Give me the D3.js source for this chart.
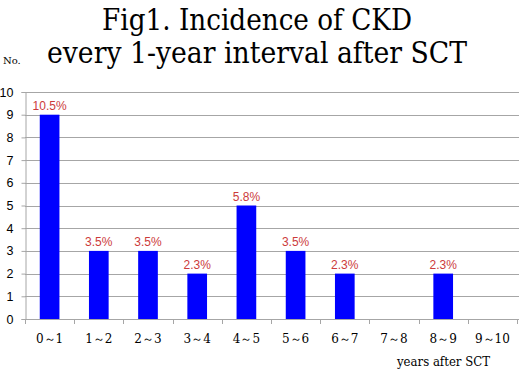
<!DOCTYPE html>
<html>
<head>
<meta charset="utf-8">
<script src="https://cdn.jsdelivr.net/npm/d3@7"></script>
<style>
  body { margin: 0; background: #fff; }
  svg { display: block; }
</style>
</head>
<body>
<div id="chart"></div>
<script>
// data
var categories = ["0～1", "1～2", "2～3", "3～4", "4～5", "5～6", "6～7", "7～8", "8～9", "9～10"];
var counts = [9, 3, 3, 2, 5, 3, 2, 0, 2, 0];
var percents = ["10.5%", "3.5%", "3.5%", "2.3%", "5.8%", "3.5%", "2.3%", "", "2.3%", ""];
var yTicks = [0, 1, 2, 3, 4, 5, 6, 7, 8, 9, 10];

var W = 520, H = 370;
var margin = {left: 25, right: 1, top: 92, bottom: 51};
var width = W - margin.left - margin.right;
var height = H - margin.top - margin.bottom;

var serif = "DejaVu Serif, serif";
var sans = "Liberation Sans, Arial, sans-serif";

var svg = d3.select("#chart").append("svg")
    .attr("width", W)
    .attr("height", H);

// title (narrow mincho-like face in the original, so squeeze it)
svg.append("text")
    .attr("x", 102).attr("y", 30)
    .attr("font-family", serif)
    .attr("font-size", 30)
    .attr("textLength", 310).attr("lengthAdjust", "spacingAndGlyphs")
    .text("Fig1. Incidence of CKD");
svg.append("text")
    .attr("x", 47).attr("y", 63)
    .attr("font-family", serif)
    .attr("font-size", 30)
    .attr("textLength", 420).attr("lengthAdjust", "spacingAndGlyphs")
    .text("every 1-year interval after SCT");

svg.append("text")
    .attr("x", 3).attr("y", 64)
    .attr("font-family", serif).attr("font-size", 10)
    .text("No.");

var g = svg.append("g")
    .attr("transform", "translate(" + margin.left + "," + margin.top + ")");

var x = d3.scaleBand()
    .domain(categories)
    .range([0, width - 2])
    .paddingInner(0.6).paddingOuter(0.3);

var xTick = d3.scaleLinear()
    .domain([0, categories.length])
    .range([0, width - 2]);

var y = d3.scaleLinear()
    .domain([0, 10])
    .range([height, 0]);

// gridlines
g.append("g").selectAll("line")
    .data(yTicks.slice(1))
    .enter().append("line")
    .attr("x1", 0).attr("x2", width)
    .attr("y1", function(d) { return Math.round(y(d)) + 0.5; })
    .attr("y2", function(d) { return Math.round(y(d)) + 0.5; })
    .attr("stroke", "#a6a6a6");

// y axis
var yAxis = g.append("g")
    .attr("transform", "translate(0.5,0)")
    .call(d3.axisLeft(y).tickValues(yTicks).tickSize(4).tickPadding(8));
yAxis.select(".domain").attr("stroke", "#a6a6a6");
yAxis.selectAll(".tick line").attr("stroke", "#a6a6a6");
yAxis.selectAll("text")
    .attr("font-family", sans).attr("font-size", 12.5).attr("fill", "#000");

// x axis
g.append("line")
    .attr("x1", 0).attr("x2", width)
    .attr("y1", Math.round(height) + 0.5).attr("y2", Math.round(height) + 0.5)
    .attr("stroke", "#a6a6a6");
g.append("g").selectAll("line")
    .data(d3.range(categories.length + 1))
    .enter().append("line")
    .attr("x1", function(d) { return Math.round(xTick(d)) + 0.5; })
    .attr("x2", function(d) { return Math.round(xTick(d)) + 0.5; })
    .attr("y1", height).attr("y2", height + 5)
    .attr("stroke", "#a6a6a6");

g.append("g").selectAll("text")
    .data(categories)
    .enter().append("text")
    .attr("x", function(d) { return x(d) + x.bandwidth() / 2; })
    .attr("y", height + 24)
    .attr("text-anchor", "middle")
    .attr("font-family", serif).attr("font-size", 12)
    .text(function(d) { return d; });

// bars
g.append("g").selectAll("rect")
    .data(counts)
    .enter().append("rect")
    .attr("x", function(d, i) { return x(categories[i]); })
    .attr("width", x.bandwidth())
    .attr("y", function(d) { return y(d); })
    .attr("height", function(d) { return height - y(d); })
    .attr("fill", "#0000ff");

// percent labels
g.append("g").selectAll("text")
    .data(counts)
    .enter().append("text")
    .attr("x", function(d, i) { return x(categories[i]) + x.bandwidth() / 2; })
    .attr("y", function(d) { return y(d) - 5; })
    .attr("text-anchor", "middle")
    .attr("fill", "#cc3b3b")
    .attr("font-family", sans).attr("font-size", 12)
    .text(function(d, i) { return percents[i]; });

svg.append("text")
    .attr("x", 397).attr("y", 366)
    .attr("font-family", serif).attr("font-size", 12)
    .attr("textLength", 93).attr("lengthAdjust", "spacingAndGlyphs")
    .text("years after SCT");
</script>
</body>
</html>
